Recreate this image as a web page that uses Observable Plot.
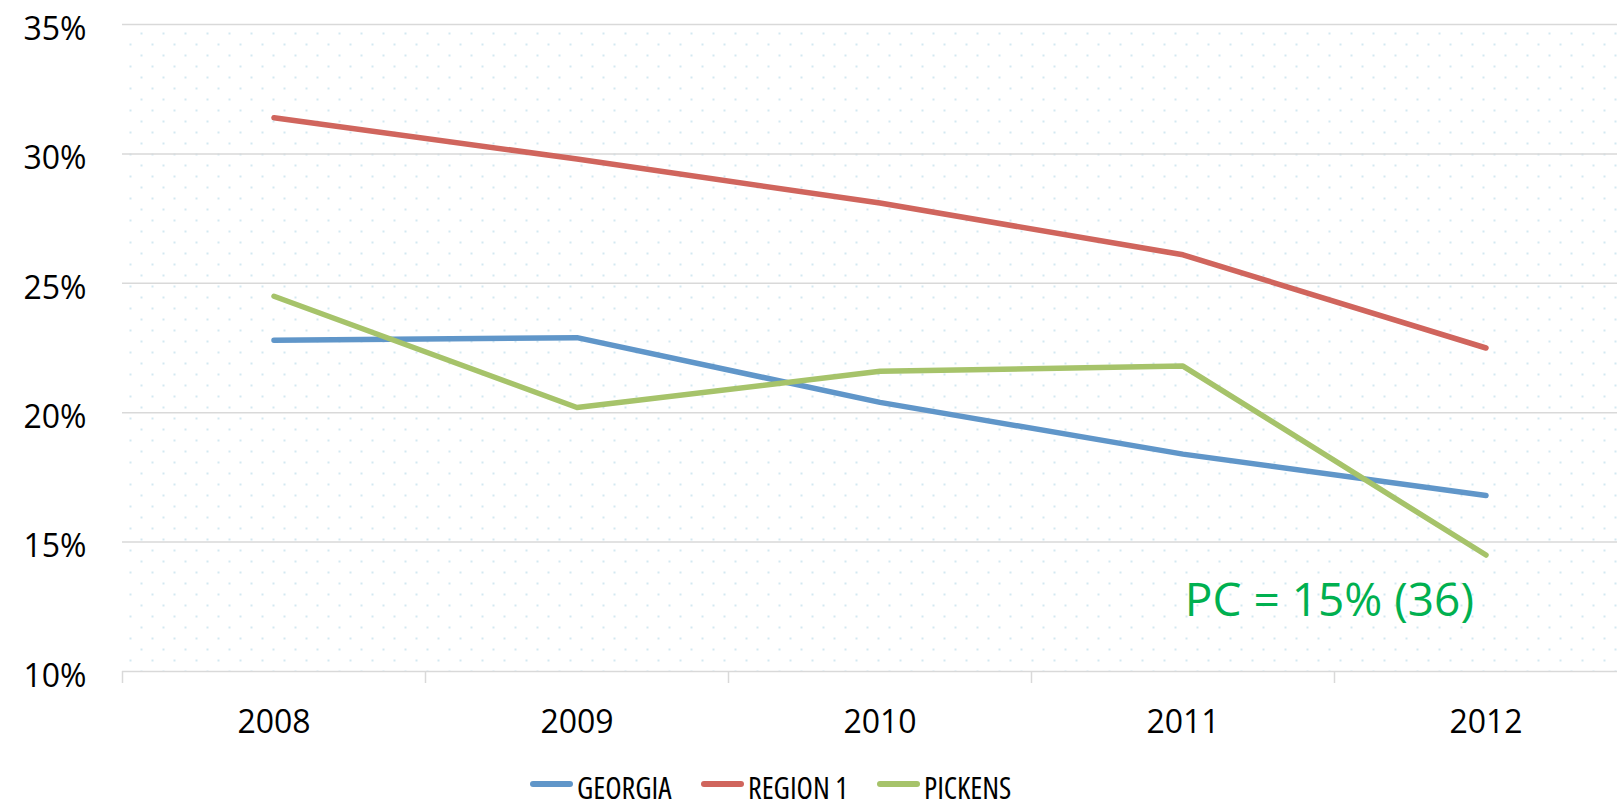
<!DOCTYPE html>
<html>
<head>
<meta charset="utf-8">
<script src="https://cdn.jsdelivr.net/npm/d3@7"></script>
<script src="https://cdn.jsdelivr.net/npm/@observablehq/plot@0.6"></script>
<style>
  html, body { margin: 0; padding: 0; background: #fff; }
  #chart svg { display: block; overflow: hidden; }
  #legend { position: relative; height: 48px; font-family: "Open Sans", sans-serif; }
  .item { position: absolute; top: 0; height: 48px; display: flex; align-items: center; }
  .sw { width: 43px; height: 6px; border-radius: 3px; margin-right: 4px; margin-top: 0px; }
  .lab { font-size: 30px; color: #000; font-stretch: 79%; display: inline-block; margin-top: 7px; }
</style>
</head>
<body>
<div id="chart"></div>
<div id="legend"></div>
<script>
const years = ["2008", "2009", "2010", "2011", "2012"];
const seriesNames = ["GEORGIA", "REGION 1", "PICKENS"];
const seriesColors = ["#6096c9", "#d0655d", "#a6c36a"];
const georgia = [22.8, 22.9, 20.4, 18.4, 16.8];
const region1 = [31.4, 29.8, 28.1, 26.1, 22.5];
const pickens = [24.5, 20.2, 21.6, 21.8, 14.5];
const yTicks = [10, 15, 20, 25, 30, 35];
const annText = "PC = 15% (36)";
const annYear = "2012";
const annValue = 12.7;

const seriesValues = [georgia, region1, pickens];
const rows = [];
seriesNames.forEach((s, si) => years.forEach((y, i) => rows.push({series: s, year: y, value: seriesValues[si][i]})));

const W = 1617, H = 760;
const xRange = [122, 1637];
const bw = (xRange[1] - xRange[0]) / years.length;

const plot = Plot.plot({
  width: W,
  height: H,
  marginLeft: 122,
  marginRight: 0,
  marginTop: 24,
  marginBottom: 89,
  style: {fontFamily: "Open Sans, sans-serif", background: "#fff"},
  x: {type: "band", domain: years, range: xRange, padding: 0, label: null},
  y: {domain: [10, 35], ticks: yTicks, label: null},
  color: {domain: seriesNames, range: seriesColors},
  marks: [
    Plot.frame({fill: "url(#dots)", stroke: null}),
    Plot.gridY(yTicks, {stroke: "#d9d9d9", strokeOpacity: 1, strokeWidth: 1.5}),
    Plot.axisY(yTicks, {tickSize: 0, tickPadding: 36, tickFormat: d => d + "%", fontSize: 32, fill: "#000", dy: 5, label: null}),
    Plot.axisX(years, {tickFormat: null, tickSize: 12, dx: -bw / 2, stroke: "#d9d9d9", strokeWidth: 1.5, strokeOpacity: 1, label: null}),
    Plot.axisX(years, {tickSize: 0, tickPadding: 39, fontSize: 32, fill: "#000", label: null}),
    Plot.line(rows, {x: "year", y: "value", z: "series", stroke: "series", strokeWidth: 5.5, strokeLinecap: "round", strokeLinejoin: "round"}),
    Plot.text([annText], {x: () => annYear, y: () => annValue, text: d => d, textAnchor: "end", dx: -12, fontSize: 46, fill: "#00b050", lineAnchor: "middle"})
  ]
});

const ns = "http://www.w3.org/2000/svg";
const defs = document.createElementNS(ns, "defs");
defs.innerHTML = `<pattern id="dots" patternUnits="userSpaceOnUse" x="140" y="32" width="22" height="22">
  <rect x="0" y="0" width="2" height="2" fill="#d3e8f1"/>
  <rect x="11" y="11" width="2" height="2" fill="#d3e8f1"/>
</pattern>`;
plot.insertBefore(defs, plot.firstChild);
document.getElementById("chart").appendChild(plot);

const legend = document.getElementById("legend");
const legendLeft = [530, 701, 877];
seriesNames.forEach((s, i) => {
  const item = document.createElement("div");
  item.className = "item";
  item.style.left = legendLeft[i] + "px";
  const sw = document.createElement("span");
  sw.className = "sw";
  sw.style.background = seriesColors[i];
  const lab = document.createElement("span");
  lab.className = "lab";
  lab.textContent = s;
  item.appendChild(sw);
  item.appendChild(lab);
  legend.appendChild(item);
});
</script>
</body>
</html>
